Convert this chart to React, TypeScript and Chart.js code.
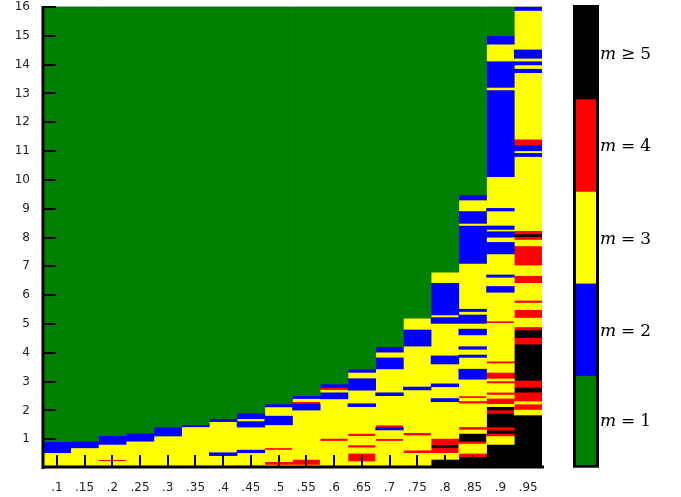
import React, { useEffect, useRef } from "react";
import { Chart, registerables } from "chart.js";

Chart.register(...registerables);

// x categories
const categories = [".1", ".15", ".2", ".25", ".3", ".35", ".4", ".45", ".5", ".55", ".6", ".65", ".7", ".75", ".8", ".85", ".9", ".95"];
// y tick values
const yTickValues = [1, 2, 3, 4, 5, 6, 7, 8, 9, 10, 11, 12, 13, 14, 15, 16];
// levels (m) and legend
const levelIds = [1, 2, 3, 4, 5];
const levelColors = ["#008000", "#0000ff", "#ffff00", "#ff0000", "#000000"];
const levelRelations = ["=", "=", "=", "=", "\u2265"];
const levelValues = ["1", "2", "3", "4", "5"];

// each column: [level m, top of segment] from bottom upward (segment starts at previous top)
const col10 = [[3, 0.53], [2, 0.92], [1, 16]];
const col15 = [[3, 0.70], [2, 0.93], [1, 16]];
const col20 = [[3, 0.23], [4, 0.29], [3, 0.82], [2, 1.12], [1, 16]];
const col25 = [[3, 0.93], [2, 1.21], [1, 16]];
const col30 = [[3, 1.11], [2, 1.42], [1, 16]];
const col35 = [[3, 1.43], [2, 1.50], [1, 16]];
const col40 = [[3, 0.43], [2, 0.53], [3, 1.61], [2, 1.71], [1, 16]];
const col45 = [[3, 0.03], [4, 0.09], [3, 0.53], [2, 0.62], [3, 1.42], [2, 1.61], [3, 1.71], [2, 1.90], [1, 16]];
const col50 = [[3, 0.10], [4, 0.22], [3, 0.62], [4, 0.70], [3, 1.50], [2, 1.80], [3, 2.12], [2, 2.22], [1, 16]];
const col55 = [[3, 0.10], [4, 0.30], [3, 2.01], [2, 2.22], [4, 2.30], [3, 2.41], [2, 2.51], [1, 16]];
const col60 = [[3, 0.93], [4, 1.03], [3, 2.40], [2, 2.61], [3, 2.70], [4, 2.80], [2, 2.92], [1, 16]];
const col65 = [[3, 0.22], [4, 0.51], [3, 0.70], [4, 0.80], [3, 1.10], [4, 1.20], [3, 2.13], [2, 2.23], [3, 2.70], [2, 3.10], [3, 3.32], [2, 3.43], [1, 16]];
const col70 = [[3, 0.93], [4, 1.02], [3, 1.32], [2, 1.40], [4, 1.49], [3, 2.51], [2, 2.61], [3, 3.44], [2, 3.82], [3, 4.02], [2, 4.21], [1, 16]];
const col75 = [[3, 0.51], [4, 0.62], [3, 1.12], [4, 1.23], [3, 2.71], [2, 2.81], [3, 4.23], [2, 4.79], [3, 5.20], [1, 16]];
const col80 = [[5, 0.30], [3, 0.51], [4, 0.69], [5, 0.81], [4, 1.03], [3, 2.30], [2, 2.41], [3, 2.82], [2, 2.92], [3, 3.61], [2, 3.89], [3, 5.02], [2, 5.22], [3, 5.31], [2, 6.41], [3, 6.80], [1, 16]];
const col85 = [[5, 0.39], [4, 0.51], [3, 0.83], [4, 0.91], [5, 1.20], [3, 1.32], [4, 1.43], [3, 2.23], [4, 2.33], [3, 2.42], [4, 2.50], [3, 3.08], [2, 3.43], [3, 3.84], [2, 3.92], [3, 4.12], [2, 4.21], [3, 4.62], [2, 4.82], [3, 5.02], [2, 5.31], [3, 5.43], [2, 5.51], [3, 7.10], [2, 8.40], [3, 8.49], [2, 8.90], [3, 9.30], [2, 9.48], [1, 16]];
const col90 = [[5, 0.82], [3, 1.09], [4, 1.18], [5, 1.31], [4, 1.40], [5, 1.90], [4, 1.99], [5, 2.13], [3, 2.21], [4, 2.42], [3, 2.53], [4, 2.63], [3, 2.93], [4, 3.02], [3, 3.09], [4, 3.32], [3, 3.62], [4, 3.71], [3, 5.02], [4, 5.10], [3, 6.10], [2, 6.30], [3, 6.62], [2, 6.70], [3, 7.43], [2, 7.83], [3, 8.01], [2, 8.20], [3, 8.28], [2, 8.40], [3, 8.92], [2, 9.01], [3, 10.11], [2, 13.10], [3, 13.21], [2, 14.10], [3, 14.71], [2, 15.01], [1, 16]];
const col95 = [[5, 1.84], [3, 2.01], [4, 2.22], [3, 2.30], [4, 2.61], [5, 2.80], [4, 3.02], [5, 4.30], [4, 4.50], [5, 4.79], [4, 4.90], [3, 5.20], [4, 5.50], [3, 5.72], [4, 5.82], [3, 6.41], [4, 6.68], [3, 7.02], [4, 7.71], [3, 7.91], [4, 8.01], [5, 8.12], [4, 8.24], [3, 10.81], [2, 10.92], [3, 11.01], [2, 11.19], [4, 11.41], [3, 13.72], [2, 13.84], [3, 13.99], [2, 14.10], [3, 14.22], [2, 14.51], [3, 15.88], [2, 16]];

const columns = [col10, col15, col20, col25, col30, col35, col40, col45, col50, col55, col60, col65, col70, col75, col80, col85, col90, col95];

function buildDatasets() {
  return levelIds.map((lvl, li) => {
    const data: any[] = [];
    columns.forEach((col, ci) => {
      let start = 0;
      col.forEach(([m, top]) => {
        if (m === lvl) data.push({ x: categories[ci], y: [start, top] });
        start = top;
      });
    });
    return {
      label: "m" + levelRelations[li] + levelValues[li],
      data,
      backgroundColor: levelColors[li],
      borderWidth: 0,
      grouped: false,
      categoryPercentage: 1,
      barPercentage: 1,
    };
  });
}

const decorPlugin = {
  id: "decor",
  afterDatasetsDraw(chart: any) {
    const { ctx, chartArea: a, scales } = chart;
    const xs = scales.x;
    const ys = scales.y;
    ctx.save();
    // faint top frame line
    ctx.strokeStyle = "rgba(140,140,140,0.7)";
    ctx.lineWidth = 1;
    ctx.beginPath();
    ctx.moveTo(a.left, a.top - 0.5);
    ctx.lineTo(a.right, a.top - 0.5);
    ctx.stroke();
    // inward tick marks
    ctx.strokeStyle = "#000";
    ctx.lineWidth = 2;
    ctx.beginPath();
    yTickValues.forEach((v) => {
      const py = Math.round(ys.getPixelForValue(v));
      ctx.moveTo(a.left, py);
      ctx.lineTo(a.left + 13, py);
    });
    categories.forEach((_c, i) => {
      const px = Math.round(xs.getPixelForValue(i));
      ctx.moveTo(px, a.bottom);
      ctx.lineTo(px, a.bottom - 13);
    });
    ctx.stroke();
    // axis lines
    ctx.lineWidth = 3;
    ctx.beginPath();
    ctx.moveTo(a.left, a.top - 1);
    ctx.lineTo(a.left, a.bottom + 1);
    ctx.moveTo(a.left - 1.5, a.bottom - 1);
    ctx.lineTo(a.right + 2, a.bottom - 1);
    ctx.stroke();

    // colour bar legend
    const cbL = a.right + 31;
    const cbR = cbL + 26;
    const cbT = a.top - 2;
    const cbB = a.bottom - 0.3;
    ctx.fillStyle = "#000";
    ctx.fillRect(cbL, cbT, cbR - cbL, cbB - cbT);
    const segH = (a.bottom - a.top) / levelIds.length;
    const innerBottom = cbB - 2.7;
    levelIds.forEach((_l, i) => {
      const segBottom = Math.min(a.bottom - i * segH, innerBottom);
      const segTop = a.bottom - (i + 1) * segH;
      ctx.fillStyle = levelColors[i];
      ctx.fillRect(cbL + 3, segTop, cbR - cbL - 6, segBottom - segTop);
      const cy = (segBottom + segTop) / 2;
      const base = cy + 6;
      let tx = cbR + 1;
      ctx.fillStyle = "#000";
      ctx.textAlign = "left";
      ctx.textBaseline = "alphabetic";
      ctx.font = "italic 17px 'DejaVu Serif'";
      ctx.fillText("m", tx, base);
      tx += ctx.measureText("m").width + 5;
      ctx.font = "17px 'DejaVu Serif'";
      ctx.fillText(levelRelations[i], tx, base);
      tx += ctx.measureText(levelRelations[i]).width + 5;
      ctx.fillText(levelValues[i], tx, base);
    });
    ctx.restore();
  },
};

export default function App() {
  const canvasRef = useRef<HTMLCanvasElement | null>(null);
  useEffect(() => {
    const canvas = canvasRef.current;
    if (!canvas) return;
    const chart = new Chart(canvas, {
      type: "bar",
      data: { labels: categories, datasets: buildDatasets() as any },
      options: {
        responsive: false,
        animation: false,
        devicePixelRatio: 1,
        layout: { padding: { left: 0, top: 7, right: 139, bottom: 0 } },
        plugins: { legend: { display: false }, tooltip: { enabled: false } },
        scales: {
          x: {
            type: "category",
            offset: true,
            grid: { display: false, drawTicks: false },
            border: { display: false },
            ticks: {
              padding: 13,
              color: "#222",
              font: { family: "'DejaVu Sans'", size: 12 },
              maxRotation: 0,
              autoSkip: false,
            },
            afterFit: (s: any) => {
              s.height = 29;
              s.paddingLeft = 0;
              s.paddingRight = 0;
            },
          },
          y: {
            min: 0,
            max: 16,
            grid: { display: false, drawTicks: false },
            border: { display: false },
            ticks: {
              stepSize: 1,
              padding: 13,
              color: "#222",
              font: { family: "'DejaVu Sans'", size: 12 },
              callback: (v: any) => (v === 0 ? "" : String(v)),
            },
            afterFit: (s: any) => {
              s.width = 43;
              s.paddingTop = 0;
              s.paddingBottom = 0;
            },
          },
        },
      },
      plugins: [decorPlugin],
    });
    return () => chart.destroy();
  }, []);
  return (
    <div style={{ position: "absolute", left: 0, top: 0, width: 681, height: 497, background: "#fff" }}>
      <canvas ref={canvasRef} width={681} height={497} style={{ display: "block" }} />
    </div>
  );
}
